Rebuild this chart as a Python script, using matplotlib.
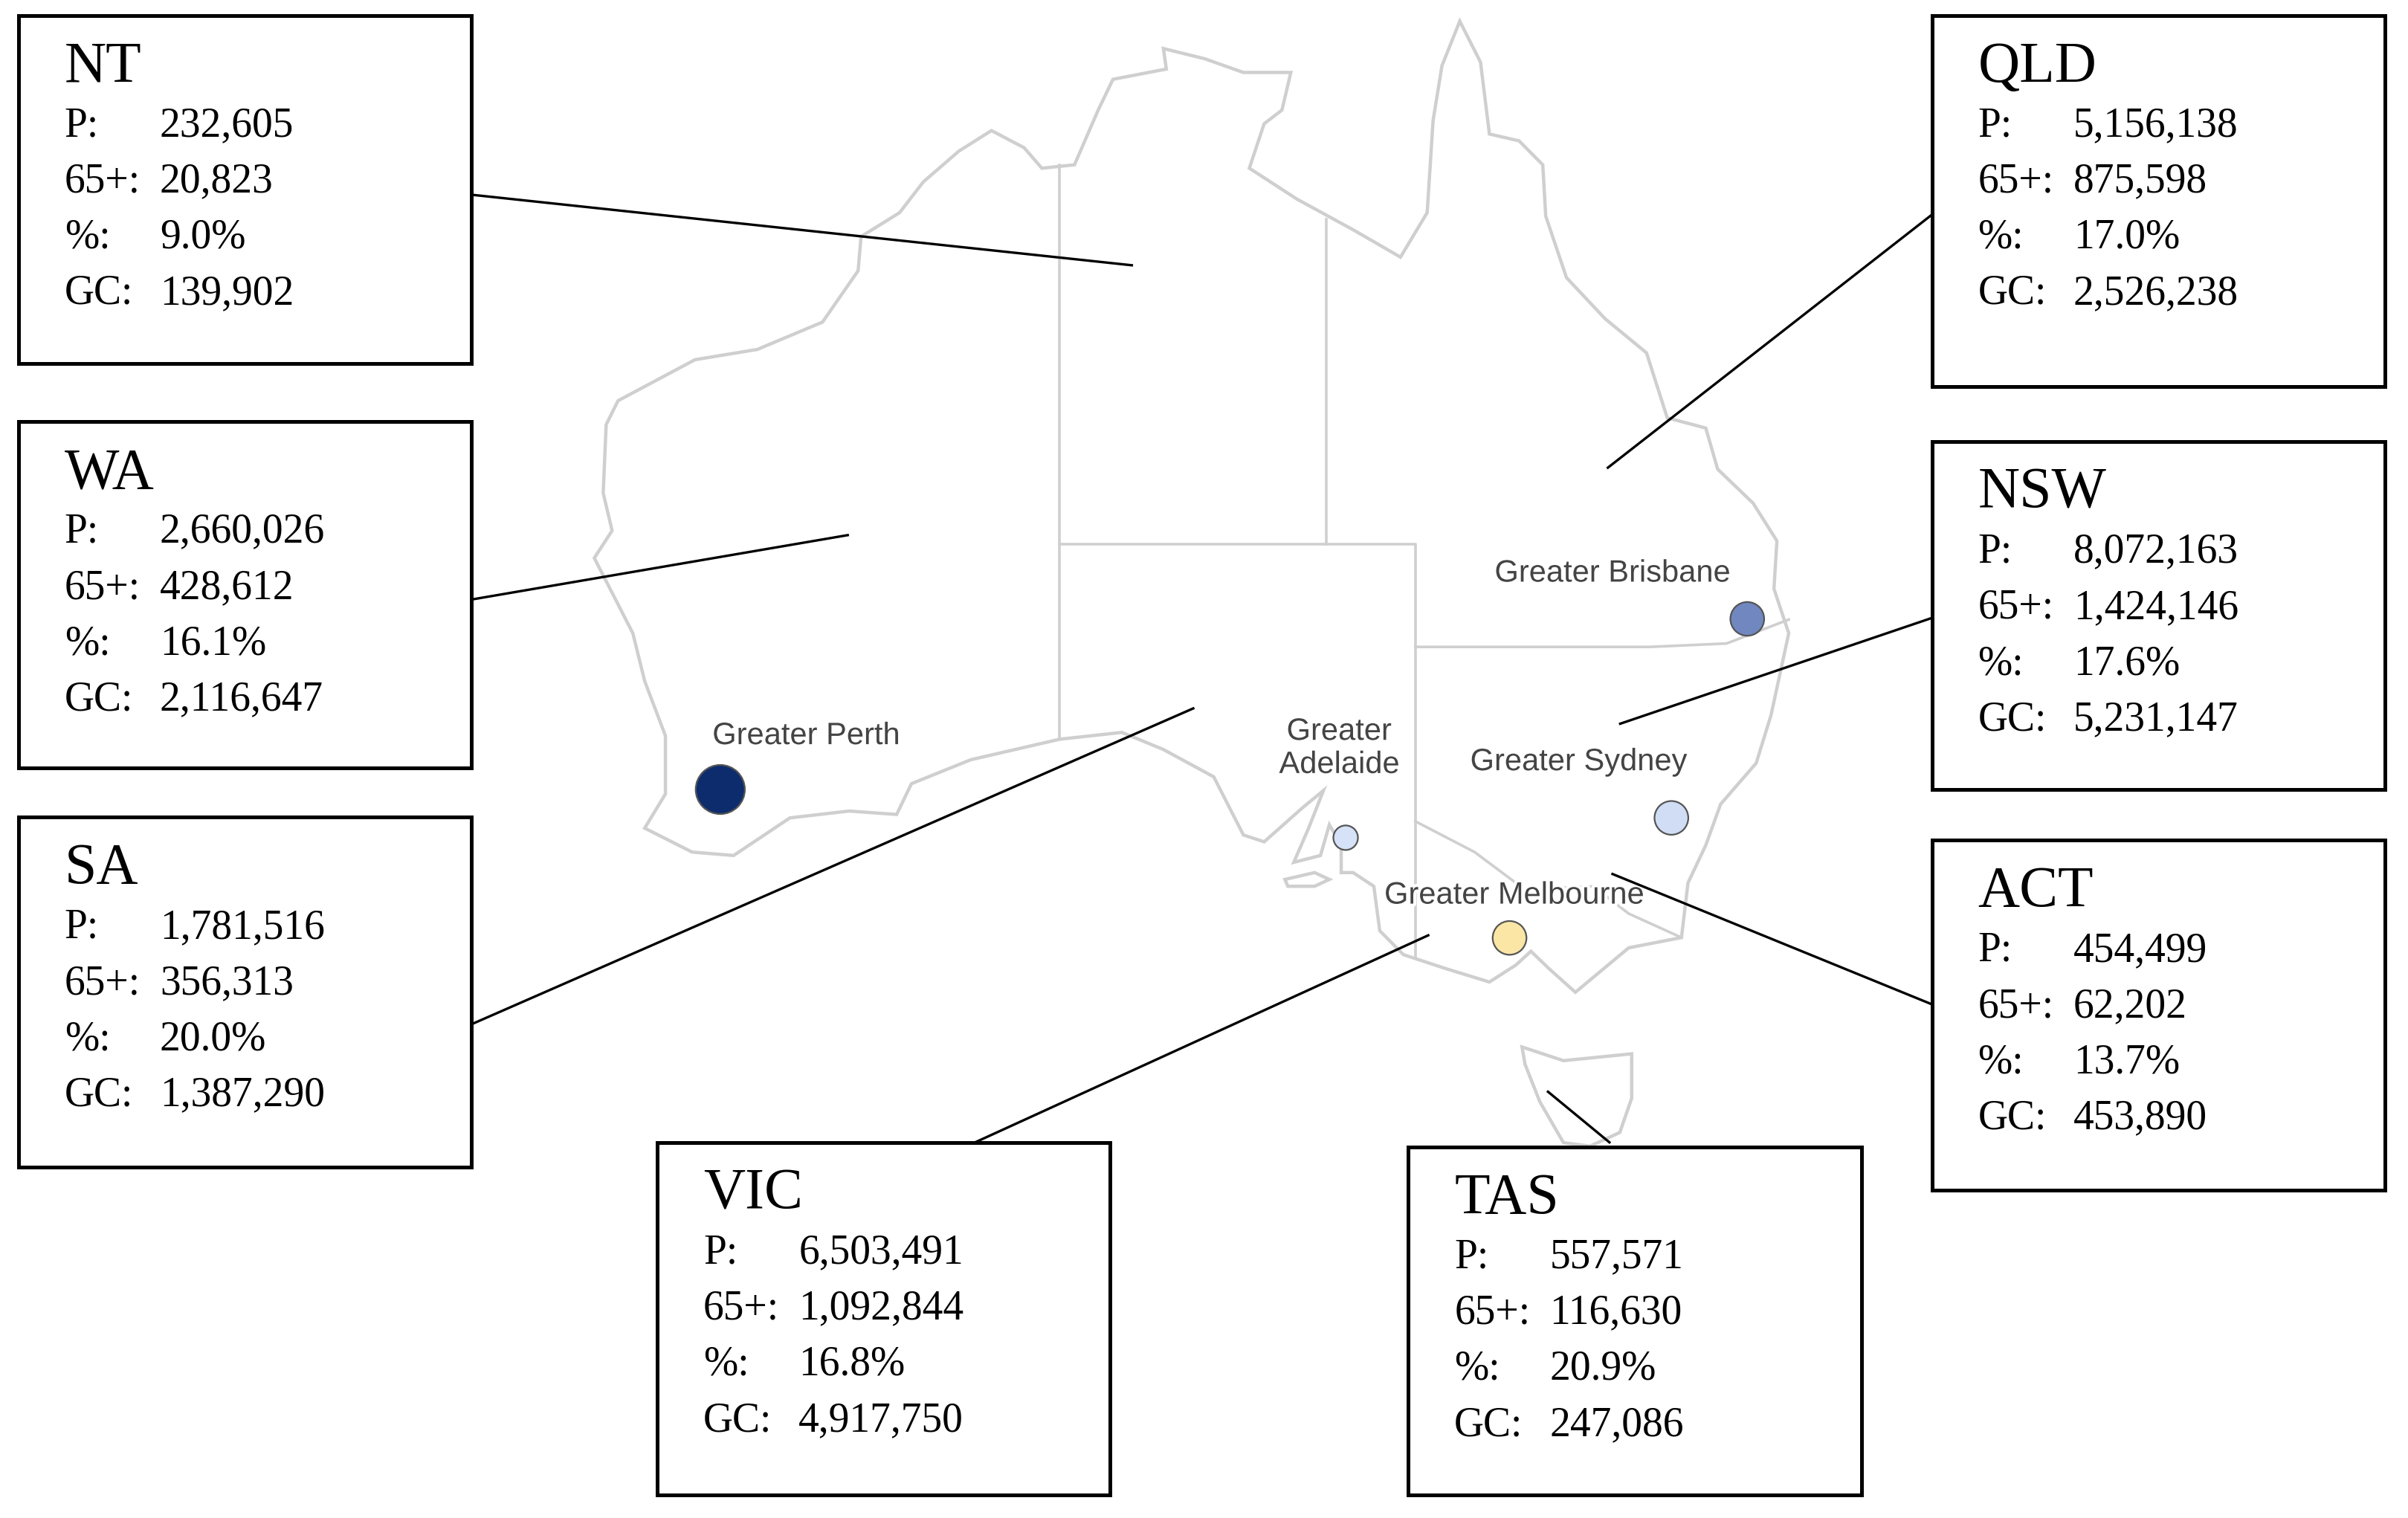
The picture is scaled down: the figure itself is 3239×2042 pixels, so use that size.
import matplotlib.pyplot as plt
from matplotlib.patches import Rectangle, Polygon
import matplotlib.patheffects as pe

# coastline (lon, lat), rough
mainland = [(115.0, -34.3), (115.7, -33.3), (115.7, -31.6), (115.0, -30.0), (114.6, -28.6), (113.3, -26.4),
            (113.9, -25.6), (113.6, -24.5), (113.7, -22.5), (114.1, -21.8), (116.7, -20.6), (118.8, -20.3),
            (121.0, -19.5), (122.2, -18.0), (122.3, -17.0), (123.6, -16.3), (124.4, -15.4), (125.6, -14.5),
            (126.7, -13.9), (127.8, -14.4), (128.4, -15.0), (129.5, -14.9), (130.3, -13.3), (130.8, -12.4),
            (132.6, -12.1), (132.5, -11.5), (133.9, -11.8), (135.2, -12.2), (136.8, -12.2), (136.5, -13.3),
            (135.9, -13.7), (135.4, -15.0), (137.0, -15.9), (138.9, -16.8), (140.5, -17.6), (141.4, -16.3),
            (141.6, -13.6), (141.9, -12.0), (142.5, -10.7), (143.2, -11.9), (143.5, -14.0), (144.5, -14.2),
            (145.3, -14.9), (145.4, -16.4), (146.1, -18.2), (147.4, -19.4), (148.8, -20.4), (149.5, -22.3),
            (150.8, -22.6), (151.2, -23.8), (152.4, -24.8), (153.2, -25.9), (153.1, -27.3), (153.6, -28.6),
            (153.0, -31.0), (152.5, -32.4), (151.3, -33.6), (150.8, -34.8), (150.2, -35.9), (149.98, -37.5),
            (148.2, -37.8), (146.4, -39.1), (145.5, -38.4), (144.9, -37.9), (144.4, -38.3), (143.5, -38.8),
            (142.0, -38.4), (140.6, -38.0), (139.8, -37.3), (139.6, -36.0), (138.9, -35.6), (138.5, -35.6),
            (138.5, -34.8), (138.1, -34.2), (137.8, -35.1), (136.9, -35.3), (137.4, -34.3), (137.9, -33.2),
            (137.2, -33.7), (135.9, -34.7), (135.2, -34.5), (134.2, -32.8), (132.5, -32.0), (131.1, -31.5),
            (129.0, -31.7), (126.0, -32.3), (124.0, -33.0), (123.5, -33.9), (121.9, -33.8), (119.9, -34.0),
            (118.0, -35.1), (116.6, -35.0)]
tasmania = [(144.6, -40.7), (146.0, -41.1), (148.3, -40.9), (148.3, -42.2), (147.9, -43.2), (146.9, -43.6),
            (146.0, -43.5), (145.2, -42.3), (144.7, -41.2)]
kangaroo = [(136.6, -35.8), (137.6, -35.6), (138.1, -35.8), (137.6, -36.0), (136.7, -36.0)]
borders = [
    [(129, -14.9), (129, -31.7)],
    [(129, -26), (138, -26)],
    [(138, -16.5), (138, -26)],
    [(138, -26), (141, -26), (141, -29)],
    [(141, -29), (148.9, -29), (151.5, -28.9), (153.6, -28.2)],
    [(141, -29), (141, -38.05)],
    [(141, -34.1), (143, -35), (144.7, -36.1), (147, -36), (148.2, -36.8), (149.98, -37.5)],
]

# cities (lon, lat as placed on the source map), radius, colour
city_names = ["Greater Perth", "Greater Adelaide", "Greater Sydney", "Greater Brisbane", "Greater Melbourne"]
city_lonlat = [(117.55, -33.17), (138.65, -34.58), (149.64, -34.0), (152.2, -28.18), (144.18, -37.51)]
city_r = [16, 8, 11, 11, 11]
city_col = ["#0d2c6e", "#d6e2f7", "#d0ddf5", "#7087c0", "#fbe6a6"]
city_label_xy = [(525, 480), (872, 488), (1028, 497), (1050, 374), (986, 584)]

# state boxes
states = ["NT", "WA", "SA", "VIC", "TAS", "ACT", "NSW", "QLD"]
pop = ["232,605", "2,660,026", "1,781,516", "6,503,491", "557,571", "454,499", "8,072,163", "5,156,138"]
aged = ["20,823", "428,612", "356,313", "1,092,844", "116,630", "62,202", "1,424,146", "875,598"]
pct = ["9.0%", "16.1%", "20.0%", "16.8%", "20.9%", "13.7%", "17.6%", "17.0%"]
gc = ["139,902", "2,116,647", "1,387,290", "4,917,750", "247,086", "453,890", "5,231,147", "2,526,238"]
box_xy = [(12, 10), (12, 275), (12, 533), (428, 745), (917, 748), (1258, 548), (1258, 288), (1258, 10)]
box_h = [227, 226, 228, 230, 227, 228, 227, 242]
leaders = [[(307, 127), (737, 173)], [(307, 391), (552, 349)], [(307, 668), (777, 462)],
           [(635, 745), (930, 610)], [(1048, 745), (1008, 712)], [(1258, 655), (1050, 570)],
           [(1258, 403), (1055, 472)], [(1258, 140), (1047, 305)]]


def proj(pts):
    return [(690 + (lon - 129) * 19.3, 355 + (-26 - lat) * 22.3) for lon, lat in pts]


fig = plt.figure(figsize=(16.195, 10.21), dpi=200)
ax = fig.add_axes([0, 0, 1, 1])
ax.set_xlim(0, 1568)
ax.set_ylim(990, 0)
ax.axis("off")

gray = "#cfcfcf"
for shape in [mainland, tasmania, kangaroo]:
    ax.add_patch(Polygon(proj(shape), closed=True, fill=False, ec=gray, lw=1.6, zorder=1))
for b in borders:
    p = proj(b)
    ax.plot([q[0] for q in p], [q[1] for q in p], color=gray, lw=1.3, zorder=1)

for name, ll, r, c, (lx, ly) in zip(city_names, city_lonlat, city_r, city_col, city_label_xy):
    x, y = proj([ll])[0]
    ax.add_patch(plt.Circle((x, y), r, fc=c, ec="#555555", lw=0.8, zorder=3))
    lines = name.split(" ") if name == "Greater Adelaide" else [name]
    txt = "\n".join(lines)
    ax.text(lx, ly, txt, ha="center", va="center", fontsize=15, color="#444444",
            family="Liberation Sans", linespacing=1.15, zorder=4,
            path_effects=[pe.withStroke(linewidth=3, foreground="white")])

for i, s in enumerate(states):
    bx, by = box_xy[i]
    ax.add_patch(Rectangle((bx, by), 295, box_h[i], fill=True, fc="white", ec="black", lw=1.8, zorder=5))
    ax.text(bx + 30, by + 34, s, fontsize=28, family="Liberation Serif", va="center", zorder=6)
    rows = [("P:", pop[i]), ("65+:", aged[i]), ("%:", pct[i]), ("GC:", gc[i])]
    for k, (lab, val) in enumerate(rows):
        yy = by + 72 + k * 36.5
        ax.text(bx + 30, yy, lab, fontsize=20, family="Liberation Serif", va="center", zorder=6)
        ax.text(bx + 92, yy, val, fontsize=20, family="Liberation Serif", va="center", zorder=6)
    (x0, y0), (x1, y1) = leaders[i]
    ax.plot([x0, x1], [y0, y1], color="black", lw=1.2, zorder=4)

fig.savefig("out.png", dpi=200)
